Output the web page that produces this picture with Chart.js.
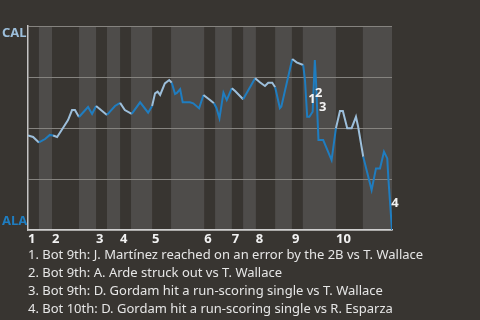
<!DOCTYPE html>
<html>
<head>
<meta charset="utf-8">
<script src="https://cdn.jsdelivr.net/npm/chart.js@4.4.1/dist/chart.umd.min.js"></script>
<style>
  html, body { margin: 0; padding: 0; background: #383531; width: 480px; height: 320px; overflow: hidden; }
  #wrap { position: absolute; left: 0; top: 0; width: 480px; height: 250px; }
  #notes { position: absolute; left: 28px; top: 245px; color: #e6e6e6; font: 13px "Noto Sans", sans-serif; line-height: 18px; white-space: nowrap; }
</style>
</head>
<body>
<div id="wrap"><canvas id="wp"></canvas></div>
<div id="notes">
  <div>1. Bot 9th: J. Martínez reached on an error by the 2B vs T. Wallace</div>
  <div>2. Bot 9th: A. Arde struck out vs T. Wallace</div>
  <div>3. Bot 9th: D. Gordam hit a run-scoring single vs T. Wallace</div>
  <div>4. Bot 10th: D. Gordam hit a run-scoring single vs R. Esparza</div>
</div>
<script>
// plate appearance position and CAL win probability (%)
const paIndex = [0, 1.4, 3.0, 4.7, 6.0, 6.9, 8.0, 9.6, 11.0, 12.1, 12.9, 14.0, 16.5, 17.6, 18.7, 21.7,
  23.9, 25.3, 26.6, 28.5, 30.8, 33.0, 34.1, 34.9, 35.6, 36.3, 37.6, 38.8, 39.5, 40.4, 40.9, 41.8,
  42.5, 44.5, 45.4, 47.0, 48.2, 50.0, 51.1, 51.8, 52.6, 53.7, 54.6, 56.0, 56.9, 59.1, 62.4, 63.7,
  65.1, 66.0, 67.1, 67.9, 69.2, 69.6, 72.6, 73.8, 75.6, 76.1, 76.7, 77.3, 78.2, 78.8, 79.1, 79.8,
  81.1, 83.4, 84.6, 85.7, 86.5, 87.7, 88.9, 90.1, 90.7, 92.1, 94.4, 95.6, 96.7, 97.8, 98.7, 99.0, 100];
const calWinProb = [46.3, 45.6, 42.9, 44.6, 46.6, 46.3, 45.6, 50.0, 53.9, 58.8, 58.8, 55.4, 60.3, 56.9, 60.8, 56.4,
  60.8, 62.3, 58.8, 56.9, 62.6, 57.5, 60.8, 67.0, 67.8, 66.2, 71.9, 73.5, 72.2, 66.7, 67.2, 69.0,
  62.6, 62.6, 62.1, 59.7, 66.2, 63.7, 62.1, 59.7, 54.8, 67.3, 63.7, 69.5, 68.1, 64.1, 74.4, 72.4,
  70.6, 72.2, 72.2, 70.0, 59.7, 60.5, 83.8, 82.2, 80.9, 73.5, 55.5, 55.5, 58.0, 83.3, 73.5, 44.1,
  44.1, 34.3, 49.9, 58.3, 58.3, 49.9, 49.9, 55.5, 50.6, 35.9, 19.6, 30.2, 30.2, 38.4, 35.1, 25.3, 0];

// half-inning boundaries (top, bottom, top, bottom ...)
const halfInnings = [0, 3, 6.6, 14, 18.7, 21.7, 25.3, 28.3, 34.1, 39.3, 48.4, 51.4, 56, 59.1, 62.6, 67.9, 72.5, 75.5, 84.6, 92, 100];
const inningLabels = ["1", "2", "3", "4", "5", "6", "7", "8", "9", "10"];

// numbered events
const noteLabels = ["1", "2", "3", "4"];
const noteX = [78.0, 79.9, 81.0, 100.8];
const noteY = [64.2, 67.2, 60.3, 13.2];

const topColor = "#9dbfdb";
const botColor = "#1f7dc0";

function halfIndex(x) {
  for (let i = 0; i < halfInnings.length - 1; i++) {
    if (x < halfInnings[i + 1]) return i;
  }
  return halfInnings.length - 2;
}

const bandPlugin = {
  id: "bands",
  beforeDraw(chart) {
    const { ctx, chartArea, scales } = chart;
    ctx.save();
    ctx.fillStyle = "#4e4c4a";
    for (let i = 1; i < halfInnings.length - 1; i += 2) {
      const x0 = scales.x.getPixelForValue(halfInnings[i]);
      const x1 = scales.x.getPixelForValue(halfInnings[i + 1]);
      ctx.fillRect(x0, chartArea.top, x1 - x0, chartArea.bottom - chartArea.top);
    }
    ctx.restore();
  },
};

const textPlugin = {
  id: "texts",
  afterDraw(chart) {
    const { ctx, chartArea, scales } = chart;
    ctx.save();
    ctx.font = "bold 13px 'Noto Sans'";
    ctx.textBaseline = "middle";
    ctx.textAlign = "left";
    ctx.fillStyle = topColor;
    ctx.fillText("CAL", 2, chartArea.top + 7);
    ctx.fillStyle = botColor;
    ctx.fillText("ALA", 2, chartArea.bottom - 9);

    ctx.textAlign = "center";
    ctx.fillStyle = "#f2f2f2";
    noteLabels.forEach((t, i) => {
      ctx.fillText(t, scales.x.getPixelForValue(noteX[i]), scales.y.getPixelForValue(noteY[i]));
    });
    ctx.restore();
  },
};

const points = paIndex.map((x, i) => ({ x: x, y: calWinProb[i] }));

new Chart(document.getElementById("wp"), {
  type: "line",
  data: {
    datasets: [
      {
        data: points,
        borderWidth: 2,
        pointRadius: 0,
        tension: 0,
        borderColor: botColor,
        segment: {
          borderColor: (c) => (halfIndex((c.p0.parsed.x + c.p1.parsed.x) / 2) % 2 === 0 ? topColor : botColor),
        },
      },
    ],
  },
  options: {
    responsive: true,
    maintainAspectRatio: false,
    animation: false,
    layout: { padding: { left: 28, top: 26, right: 88, bottom: 0 } },
    plugins: { legend: { display: false }, tooltip: { enabled: false } },
    scales: {
      x: {
        type: "linear",
        min: 0,
        max: 100,
        grid: { display: false, drawTicks: false },
        border: { display: true, color: "#cfcfcf", width: 1.5 },
        afterBuildTicks: (s) => {
          s.ticks = halfInnings.filter((v, i) => i % 2 === 0 && i < halfInnings.length - 1).map((v) => ({ value: v }));
        },
        afterFit: (s) => { s.height = 20; },
        ticks: {
          autoSkip: false,
          maxRotation: 0,
          align: "start",
          padding: 1,
          color: "#f2f2f2",
          font: { family: "Noto Sans", size: 13, weight: "bold" },
          callback: (v, i) => inningLabels[i],
        },
      },
      y: {
        min: 0,
        max: 100,
        ticks: { display: false, stepSize: 25 },
        grid: { color: "#85837f", lineWidth: 1, drawTicks: false },
        border: { display: true, color: "#c4c4c4", width: 1.5 },
        afterFit: (s) => { s.width = 0; },
      },
    },
  },
  plugins: [bandPlugin, textPlugin],
});
</script>
</body>
</html>
